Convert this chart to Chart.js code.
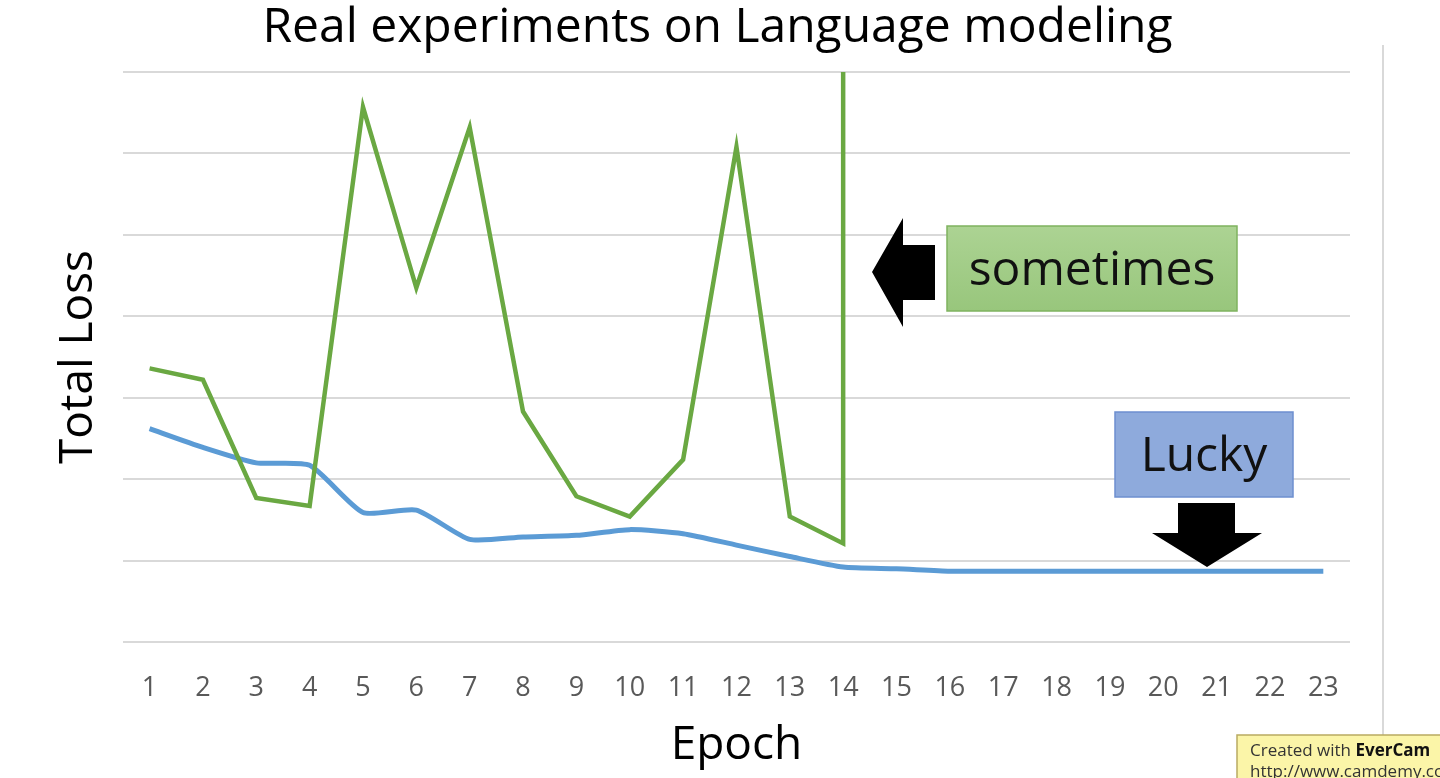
<!DOCTYPE html>
<html>
<head>
<meta charset="utf-8">
<title>Real experiments on Language modeling</title>
<script src="https://cdn.jsdelivr.net/npm/chart.js@4.4.1/dist/chart.umd.min.js"></script>
<style>
  html, body { margin: 0; padding: 0; background: #fff; }
  #wrap { width: 1440px; height: 778px; }
</style>
</head>
<body>
<div id="wrap"><canvas id="lossChart" width="1440" height="778"></canvas></div>
<script>
const epochs = ["1", "2", "3", "4", "5", "6", "7", "8", "9", "10", "11", "12",
  "13", "14", "15", "16", "17", "18", "19", "20", "21", "22", "23"];

// blue run ("Lucky")
const luckyLoss = [2.62, 2.39, 2.20, 2.17, 1.59, 1.62, 1.26, 1.29, 1.31, 1.38, 1.33, 1.19,
  1.05, 0.92, 0.90, 0.87, 0.87, 0.87, 0.87, 0.87, 0.87, 0.87, 0.87];

// green run ("sometimes"), blows up after epoch 14
const sometimesLoss = [3.36, 3.22, 1.77, 1.67, 6.57, 4.35, 6.32, 2.83, 1.79, 1.54, 2.24, 6.08,
  1.54, 1.21];
const sometimesBlowUp = 9; // off the top of the axis

const yTicks = [0, 1, 2, 3, 4, 5, 6, 7];

const FONT = "'Open Sans', 'Noto Sans', sans-serif";

const sometimesData = sometimesLoss.map((v, i) => ({ x: epochs[i], y: v }));
sometimesData.push({ x: epochs[sometimesLoss.length - 1], y: sometimesBlowUp });

function box(ctx, x, y, w, h, fill, stroke, text) {
  ctx.fillStyle = fill;
  ctx.fillRect(x, y, w, h);
  ctx.strokeStyle = stroke;
  ctx.lineWidth = 1.5;
  ctx.strokeRect(x, y, w, h);
  ctx.fillStyle = "#111";
  ctx.font = "48px " + FONT;
  ctx.textAlign = "center";
  ctx.textBaseline = "middle";
  ctx.fillText(text, x + w / 2, y + h / 2 + 3);
}

function poly(ctx, pts) {
  ctx.beginPath();
  ctx.moveTo(pts[0][0], pts[0][1]);
  for (let i = 1; i < pts.length; i++) ctx.lineTo(pts[i][0], pts[i][1]);
  ctx.closePath();
  ctx.fill();
}

const calloutsPlugin = {
  id: "callouts",
  afterDraw(chart) {
    const ctx = chart.ctx;
    ctx.save();

    // slide edge on the right
    ctx.strokeStyle = "#d9d9d9";
    ctx.lineWidth = 2;
    ctx.beginPath();
    ctx.moveTo(1383, 45);
    ctx.lineTo(1383, 778);
    ctx.stroke();

    // "sometimes" + left arrow
    const g = ctx.createLinearGradient(0, 226, 0, 311);
    g.addColorStop(0, "#acd393");
    g.addColorStop(1, "#98c67c");
    box(ctx, 947, 226, 290, 85, g, "#7fb35f", "sometimes");
    ctx.fillStyle = "#000";
    poly(ctx, [[872, 272], [903, 218], [903, 245], [935, 245], [935, 300], [903, 300], [903, 327]]);

    // "Lucky" + down arrow
    box(ctx, 1115, 412, 178, 85, "#8eaadc", "#6d8fcf", "Lucky");
    ctx.fillStyle = "#000";
    poly(ctx, [[1178, 503], [1235, 503], [1235, 533], [1262, 533], [1207, 567], [1152, 533], [1178, 533]]);

    // screen recorder watermark
    ctx.fillStyle = "#fbf5a8";
    ctx.fillRect(1237, 735, 210, 50);
    ctx.strokeStyle = "#b9ab62";
    ctx.lineWidth = 1.5;
    ctx.strokeRect(1237, 735, 210, 50);
    ctx.textAlign = "left";
    ctx.textBaseline = "alphabetic";
    ctx.fillStyle = "#333";
    ctx.font = "17px " + FONT;
    ctx.fillText("Created with ", 1250, 756);
    const w = ctx.measureText("Created with ").width;
    ctx.font = "bold 17px " + FONT;
    ctx.fillStyle = "#111";
    ctx.fillText("EverCam", 1250 + w, 756);
    ctx.font = "17px " + FONT;
    ctx.fillStyle = "#333";
    ctx.fillText("http://www.camdemy.com", 1250, 777);

    ctx.restore();
  }
};

new Chart(document.getElementById("lossChart"), {
  type: "line",
  data: {
    labels: epochs,
    datasets: [
      {
        label: "sometimes",
        data: sometimesData,
        borderColor: "#6aa842",
        borderWidth: 4.5,
        pointRadius: 0,
        tension: 0
      },
      {
        label: "Lucky",
        data: luckyLoss,
        borderColor: "#5b9bd5",
        borderWidth: 5,
        pointRadius: 0,
        tension: 0.2
      }
    ]
  },
  options: {
    responsive: false,
    animation: false,
    layout: { padding: { left: 52, right: 57, top: 0, bottom: 0 } },
    plugins: {
      legend: { display: false },
      tooltip: { enabled: false },
      title: {
        display: true,
        text: "Real experiments on Language modeling",
        color: "#000",
        font: { family: FONT, size: 48, weight: "normal", lineHeight: 1.2 },
        padding: { top: 0, bottom: 14.4 }
      }
    },
    scales: {
      x: {
        offset: true,
        grid: { display: false, drawTicks: false },
        border: { display: false },
        afterFit: (scale) => { scale.height = 136; },
        ticks: {
          color: "#595959",
          font: { family: FONT, size: 27 },
          padding: 30,
          maxRotation: 0,
          autoSkip: false
        },
        title: {
          display: true,
          text: "Epoch",
          color: "#000",
          font: { family: FONT, size: 46, lineHeight: 1.2 },
          padding: { top: 0, bottom: 5 }
        }
      },
      y: {
        min: yTicks[0],
        max: yTicks[yTicks.length - 1],
        afterBuildTicks: (scale) => { scale.ticks = yTicks.map(v => ({ value: v })); },
        grid: { color: "#d9d9d9", lineWidth: 2, drawTicks: false },
        border: { display: false },
        ticks: { display: false },
        title: {
          display: true,
          text: "Total Loss",
          color: "#000",
          font: { family: FONT, size: 46, lineHeight: 1.15 },
          padding: { top: 0, bottom: 18 }
        }
      },
      y2: {
        position: "right",
        grid: { display: false, drawTicks: false },
        border: { display: false },
        ticks: { display: false },
        title: {
          display: true,
          text: "",
          font: { size: 10, lineHeight: 1 },
          padding: { top: 0, bottom: 23 }
        }
      }
    }
  },
  plugins: [calloutsPlugin]
});
</script>
</body>
</html>
